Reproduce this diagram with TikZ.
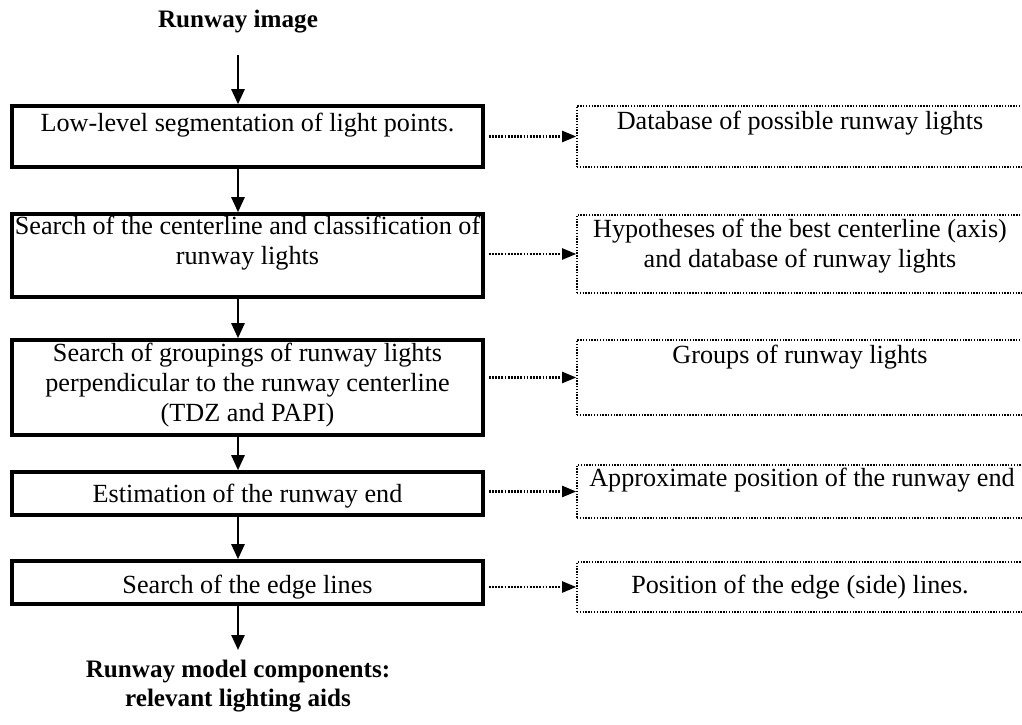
\documentclass[tikz,border=0pt]{standalone}
\usepackage{fontspec}
\setmainfont{Liberation Serif}
\usetikzlibrary{arrows.meta}

\begin{document}
\begin{tikzpicture}[
	lbox/.style={draw, line width=2pt, minimum width=9.42cm, inner sep=0pt},
	rbox/.style={draw, line width=0.9pt, dash pattern=on 0.8pt off 0.8pt, minimum width=8.94cm, inner sep=0pt},
	txt/.style={align=center, font=\fontsize{14.9}{17}\selectfont, inner sep=0pt},
	ttl/.style={align=center, font=\fontsize{14.3}{16}\selectfont\bfseries, inner sep=0pt},
	flow/.style={line width=1.4pt, -{Triangle[length=0.3cm, width=0.26cm]}},
	info/.style={line width=1.2pt, dash pattern=on 1pt off 0.8pt, shorten <=0.08cm, -{Triangle[length=0.28cm, width=0.22cm]}}
	]
	
	\useasboundingbox (0,0) rectangle (20.44,14.48);
	
	\node[ttl] (title) at (4.76,14.04) {Runway image};
	\coordinate (in) at (4.76,13.38);
	
	\node[lbox, minimum height=1.22cm] (s1) at (4.95,11.75) {};
	\node[lbox, minimum height=1.66cm] (s2) at (4.95,9.37) {};
	\node[lbox, minimum height=1.9cm] (s3) at (4.95,6.73) {};
	\node[lbox, minimum height=0.86cm] (s4) at (4.95,4.61) {};
	\node[lbox, minimum height=0.86cm] (s5) at (4.95,2.83) {};
	\node[txt] (t1) at (4.95,11.98) {Low-level segmentation of light points.};
	\node[txt] (t2) at (4.95,9.62) {Search of the centerline and classification of\\runway lights};
	\node[txt] (t3) at (4.95,6.78) {Search of groupings of runway lights\\perpendicular to the runway centerline\\(TDZ and PAPI)};
	\node[txt] (t4) at (4.95,4.56) {Estimation of the runway end};
	\node[txt] (t5) at (4.95,2.74) {Search of the edge lines};
	
	\coordinate (out) at (4.76,1.48);
	\node[ttl] (result) at (4.76,0.76) {Runway model components:\\relevant lighting aids};
	
	\node[rbox, minimum height=1.22cm] (r1) at (16.01,11.75) {};
	\node[rbox, minimum height=1.56cm] (r2) at (16.01,9.40) {};
	\node[rbox, minimum height=1.5cm] (r3) at (16.01,6.93) {};
	\node[rbox, minimum height=1.06cm] (r4) at (16.01,4.65) {};
	\node[rbox, minimum height=1.0cm] (r5) at (16.01,2.74) {};
	\node[txt] (u1) at (16.0,12.02) {Database of possible runway lights};
	\node[txt] (u2) at (16.0,9.56) {Hypotheses of the best centerline (axis)\\and database of runway lights};
	\node[txt] (u3) at (16.0,7.34) {Groups of runway lights};
	\node[txt] (u4) at (16.04,4.88) {Approximate position of the runway end};
	\node[txt] (u5) at (16.0,2.74) {Position of the edge (side) lines.};
	
	\draw[flow] (in) -- (in |- s1.north);
	\draw[flow] (s1.south -| in) -- (s2.north -| in);
	\draw[flow] (s2.south -| in) -- (s3.north -| in);
	\draw[flow] (s3.south -| in) -- (s4.north -| in);
	\draw[flow] (s4.south -| in) -- (s5.north -| in);
	\draw[flow] (s5.south -| in) -- (out);
	
	\draw[info] (s1.east |- r1.west) -- (r1.west);
	\draw[info] (s2.east |- r2.west) -- (r2.west);
	\draw[info] (s3.east |- r3.west) -- (r3.west);
	\draw[info] (s4.east |- r4.west) -- (r4.west);
	\draw[info] (s5.east |- r5.west) -- (r5.west);
	
\end{tikzpicture}
\end{document}
